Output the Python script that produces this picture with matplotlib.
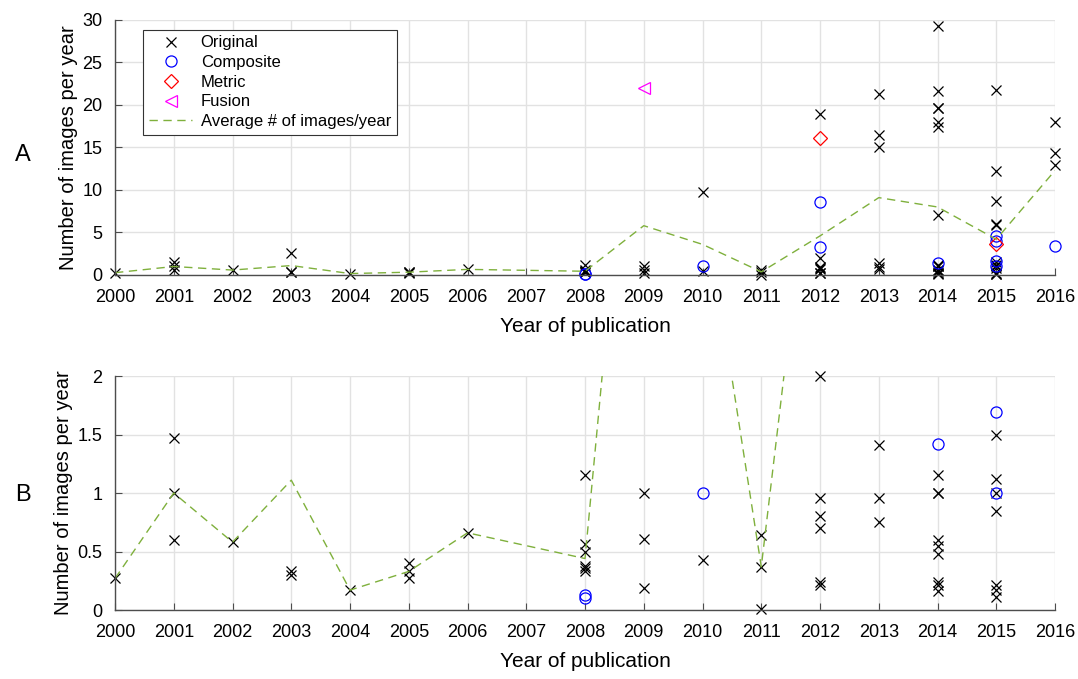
import matplotlib
matplotlib.use("Agg")
import matplotlib.pyplot as plt
from matplotlib.patches import Rectangle

plt.rcParams['font.family'] = ['Liberation Sans', 'DejaVu Sans']

# ----- data -----
orig_years = ([2000] + [2001] * 3 + [2002] + [2003] * 3 + [2004] + [2005] * 3 + [2006]
              + [2008] * 6 + [2009] * 3 + [2010] * 2 + [2011] * 3 + [2012] * 7
              + [2013] * 6 + [2014] * 16 + [2015] * 12 + [2016] * 3)
orig_vals = [0.27,
             1.47, 1.0, 0.6,
             0.58,
             2.6, 0.33, 0.30,
             0.17,
             0.40, 0.33, 0.27,
             0.66,
             1.15, 0.56, 0.50, 0.38, 0.36, 0.33,
             1.0, 0.61, 0.19,
             9.8, 0.43,
             0.64, 0.37, 0.01,
             18.9, 2.0, 0.96, 0.80, 0.70, 0.24, 0.21,
             21.3, 16.5, 15.0, 1.41, 0.96, 0.75,
             29.3, 21.7, 19.7, 19.6, 18.0, 17.4, 7.1, 1.15, 1.0, 1.0, 0.6, 0.55, 0.48, 0.24, 0.21, 0.16,
             21.8, 12.2, 8.7, 6.0, 5.9, 1.5, 1.12, 1.0, 0.85, 0.21, 0.17, 0.11,
             18.0, 14.3, 12.9]

comp_years = [2008, 2008, 2010, 2012, 2012, 2014, 2015, 2015, 2015, 2015, 2016]
comp_vals = [0.13, 0.10, 1.0, 8.6, 3.3, 1.42, 4.6, 4.0, 1.69, 1.0, 3.45]

metric_years = [2012, 2015]
metric_vals = [16.1, 3.7]

fusion_years = [2009]
fusion_vals = [22.0]

avg_years = [2000, 2001, 2002, 2003, 2004, 2005, 2006, 2008, 2009, 2010, 2011, 2012, 2013, 2014, 2015, 2016]
avg_vals = [0.27, 1.0, 0.58, 1.11, 0.17, 0.33, 0.66, 0.44, 5.8, 3.6, 0.37, 4.6, 9.1, 8.0, 4.2, 12.3]

year_ticks = list(range(2000, 2017))
top_yticks = [0, 5, 10, 15, 20, 25, 30]
bot_yticks = [0, 0.5, 1, 1.5, 2]
bot_ylabels = ['0', '0.5', '1', '1.5', '2']

avg_color = '#7fb03c'
axis_gray = '#4d4d4d'


def draw_panel(ax, ylim, yticks, yticklabels, letter, letter_y):
    # markers sitting right on the axes edge are drawn whole, like the original
    rect = Rectangle((-0.012, -0.03), 1.024, 1.06, transform=ax.transAxes)
    marks = []
    marks += ax.plot(orig_years, orig_vals, 'x', color='black', ms=7, mew=0.9, label='Original')
    marks += ax.plot(comp_years, comp_vals, 'o', mfc='none', mec='blue', ms=8, mew=0.9, label='Composite')
    marks += ax.plot(metric_years, metric_vals, 'D', mfc='none', mec='red', ms=7, mew=0.9, label='Metric')
    marks += ax.plot(fusion_years, fusion_vals, '<', mfc='none', mec='magenta', ms=8, mew=0.9, label='Fusion')
    for m in marks:
        m.set_clip_path(rect)
    ax.plot(avg_years, avg_vals, '--', color=avg_color, lw=1.0, dashes=(6, 4),
            label='Average # of images/year')

    ax.set_xlim(2000, 2016)
    ax.set_ylim(*ylim)
    ax.set_xticks(year_ticks)
    ax.set_yticks(yticks)
    ax.set_yticklabels(yticklabels)
    ax.grid(True, color='#e2e2e2', lw=1.0)
    ax.set_axisbelow(True)
    for s in ['top', 'right']:
        ax.spines[s].set_visible(False)
    for s in ['left', 'bottom']:
        ax.spines[s].set_color(axis_gray)
        ax.spines[s].set_linewidth(1.0)
    ax.tick_params(direction='in', length=5, color=axis_gray, labelsize=13,
                   labelcolor='black')
    ax.tick_params(axis='x', pad=10)
    ax.tick_params(axis='y', pad=9)
    ax.set_xlabel('Year of publication', fontsize=15, labelpad=8)
    ax.set_ylabel('Number of images per year', fontsize=14.5, labelpad=3)
    ax.text(-0.098, letter_y, letter, transform=ax.transAxes, fontsize=17,
            ha='center', va='center')


fig = plt.figure(figsize=(10.78, 6.79), dpi=100)
ax1 = fig.add_axes([0.1067, 0.595, 0.872, 0.3756])
ax2 = fig.add_axes([0.1067, 0.1016, 0.872, 0.3446])

draw_panel(ax1, (0, 30), top_yticks, [str(t) for t in top_yticks], 'A', 0.47)
draw_panel(ax2, (0, 2), bot_yticks, bot_ylabels, 'B', 0.49)

leg = ax1.legend(loc='upper left', bbox_to_anchor=(0.03, 0.962), borderaxespad=0,
                 fontsize=12, fancybox=False, framealpha=1, edgecolor='#333333',
                 handlelength=2.6, handletextpad=0.5, labelspacing=0.28, borderpad=0.35)
leg.get_frame().set_linewidth(0.8)

fig.savefig('out.png', dpi=100)
